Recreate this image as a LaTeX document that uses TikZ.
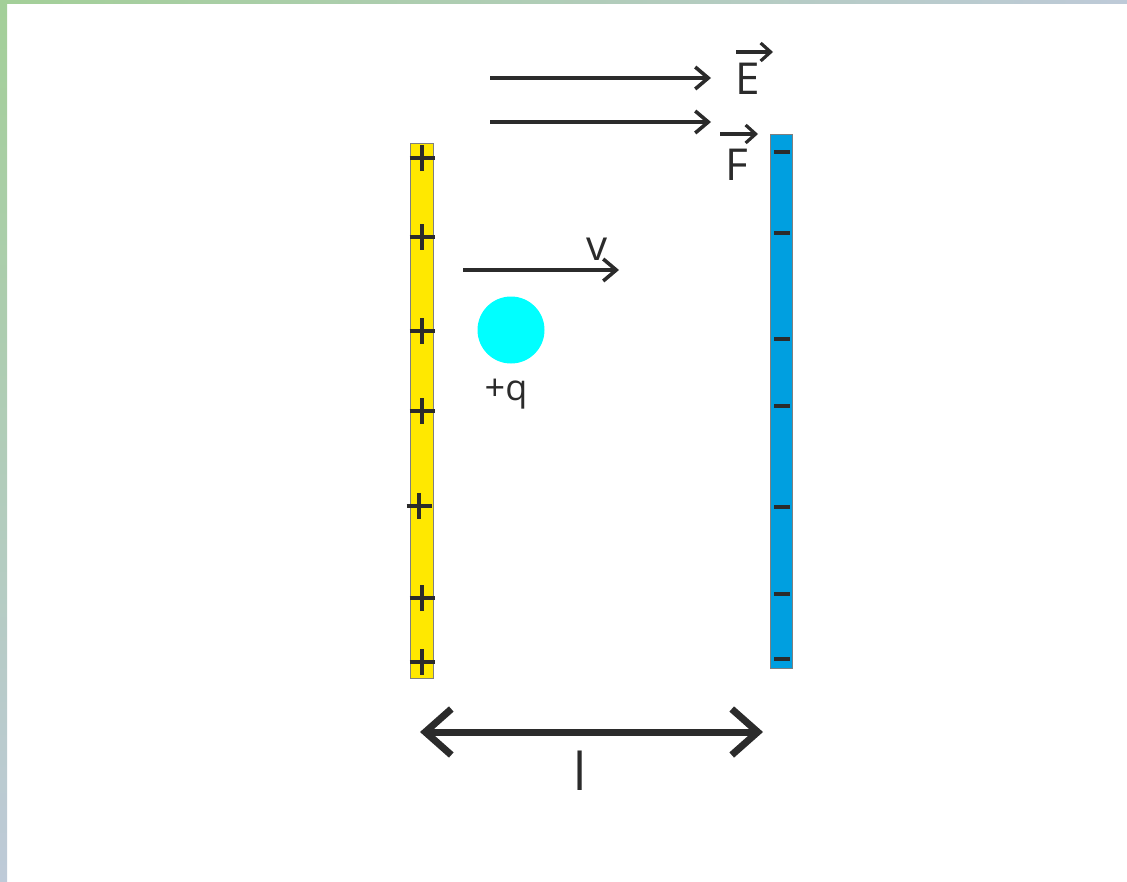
\documentclass[tikz,border=0pt]{standalone}
\usepackage{fontspec}
\setmainfont{Open Sans}
\usetikzlibrary{arrows.meta}
\definecolor{ink}{HTML}{2B2B2B}
\definecolor{plateY}{HTML}{FFE800}
\definecolor{plateB}{HTML}{009FE0}
\definecolor{ballC}{HTML}{00FFFF}
\definecolor{edgeG}{HTML}{7F7F7F}
\definecolor{brdG}{HTML}{A3CF98}
\definecolor{brdB}{HTML}{BECAD8}
\tikzset{
  vecarrow/.style={draw=ink, line width=3.6pt, -{Straight Barb[length=13pt,width=22pt,line width=3.6pt]}},
  smallvec/.style={draw=ink, line width=3.2pt, -{Straight Barb[length=10pt,width=18pt,line width=3.2pt]}},
  dimarrow/.style={draw=ink, line width=7pt, {Straight Barb[length=26pt,width=46pt,line width=7pt]}-{Straight Barb[length=26pt,width=46pt,line width=7pt]}},
  plate/.style={draw=edgeG, line width=1pt, inner sep=0pt, outer sep=0pt, minimum width=23pt},
  plus/.style={draw=ink, line width=4pt},
  minus/.style={draw=ink, line width=4pt},
  lbl/.style={text=ink, inner sep=0pt, anchor=base, font=\fontsize{44}{50}\selectfont},
}
\begin{document}
\begin{tikzpicture}[x=1pt,y=-1pt]
\useasboundingbox (0,0) rectangle (1127,881);
% frame strips
\shade[top color=brdG, bottom color=brdB] (0,0) rectangle (7,881);
\shade[left color=brdG, right color=brdB] (0,0) rectangle (1127,3.5);
% plates
\node[plate, fill=plateY, minimum height=535pt] (pos) at (421.5,410.5) {};
\node[plate, fill=plateB, minimum width=22pt, minimum height=534pt] (neg) at (781,401) {};
% plus signs
\foreach \yy/\xx in {158/422,237/422,331/422,411/422,506/419,598/422,662/422}{
  \path[plus] (\xx-12.5,\yy) -- (\xx+12.5,\yy) (\xx,\yy-13) -- (\xx,\yy+13);
}
% minus signs
\foreach \yy in {152,233,339,406,507,594,659}{
  \path[minus] (774,\yy) -- (790,\yy);
}
% field and force arrows
\coordinate (e0) at (490,78); \coordinate (e1) at (711,78);
\coordinate (f0) at (490,122); \coordinate (f1) at (711,122);
\draw[vecarrow] (e0) -- (e1);
\draw[vecarrow] (f0) -- (f1);
\node[lbl] (E) at (748,94) {E};
\node[lbl] (F) at (737,180) {F};
\coordinate (ea0) at (736,52); \coordinate (ea1) at (773,52);
\coordinate (fa0) at (720,134); \coordinate (fa1) at (758,134);
\draw[smallvec] (ea0) -- (ea1);
\draw[smallvec] (fa0) -- (fa1);
% velocity
\coordinate (v0) at (463,270); \coordinate (v1) at (619,270);
\draw[vecarrow, line width=3.2pt] (v0) -- (v1);
\node[lbl, font=\fontsize{42}{48}\selectfont] (v) at (597,260) {v};
% charge
\node[circle, fill=ballC, minimum size=67pt, inner sep=0pt] (ball) at (511,330) {};
\node[lbl, font=\fontsize{36}{42}\selectfont] (q) at (506,400) {+q};
% distance
\coordinate (d0) at (420,732); \coordinate (d1) at (763,732);
\draw[dimarrow] (d0) -- (d1);
\node[lbl, font=\fontsize{52}{60}\selectfont] (l) at (580,790) {l};
\end{tikzpicture}
\end{document}
